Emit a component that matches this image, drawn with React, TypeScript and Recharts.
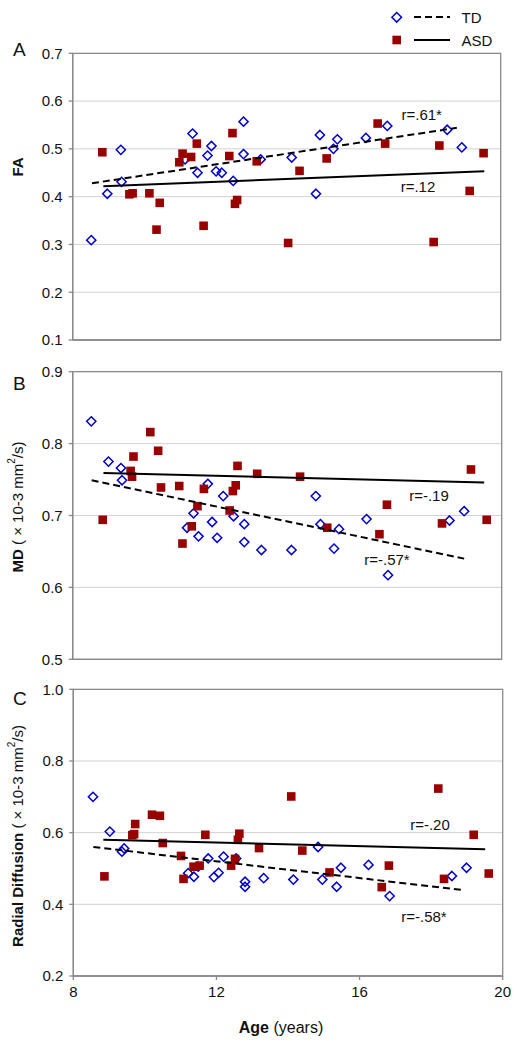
import React from 'react';
import { ComposedChart, Scatter, XAxis, YAxis, CartesianGrid, ReferenceArea } from 'recharts';

const FONT = '"Liberation Sans", Arial, Helvetica, sans-serif';

type Pt = [number, number];

// Age axis
const ageTicks = [8, 12, 16, 20];

// Panel A: FA
const faTicks = [0.1, 0.2, 0.3, 0.4, 0.5, 0.6, 0.7];
const tdFA: Pt[] = [
  [8.52, 0.309], [8.97, 0.406], [9.35, 0.498], [9.37, 0.431], [11.15, 0.478], [11.36, 0.532],
  [11.5, 0.45], [11.78, 0.486], [11.89, 0.506], [12.02, 0.453], [12.18, 0.45], [12.5, 0.433],
  [12.79, 0.557], [12.79, 0.489], [13.27, 0.478], [14.14, 0.482], [14.82, 0.406], [14.93, 0.529],
  [15.31, 0.5], [15.42, 0.52], [16.22, 0.523], [16.82, 0.548], [18.5, 0.54], [18.91, 0.503],
];
const asdFA: Pt[] = [
  [8.83, 0.493], [9.59, 0.405], [9.68, 0.407], [10.15, 0.407], [10.35, 0.331], [10.44, 0.387],
  [10.99, 0.472], [11.08, 0.49], [11.32, 0.483], [11.48, 0.511], [11.67, 0.339], [12.39, 0.485],
  [12.48, 0.533], [12.55, 0.385], [12.61, 0.393], [13.16, 0.474], [14.04, 0.303], [14.36, 0.454],
  [15.12, 0.48], [16.55, 0.553], [16.76, 0.511], [18.12, 0.305], [18.28, 0.507], [19.13, 0.412],
  [19.52, 0.491],
];
const tdFATrend: Pt[] = [[8.54, 0.428], [18.77, 0.544]];
const asdFATrend: Pt[] = [[8.86, 0.422], [19.54, 0.453]];

// Panel B: MD
const mdTicks = [0.5, 0.6, 0.7, 0.8, 0.9];
const tdMD: Pt[] = [
  [8.52, 0.831], [9.0, 0.775], [9.35, 0.766], [9.38, 0.749], [11.2, 0.683], [11.38, 0.703],
  [11.52, 0.671], [11.78, 0.744], [11.9, 0.691], [12.04, 0.669], [12.21, 0.727], [12.5, 0.699],
  [12.8, 0.688], [12.8, 0.663], [13.28, 0.652], [14.12, 0.652], [14.8, 0.727], [14.93, 0.688],
  [15.31, 0.654], [15.45, 0.681], [16.22, 0.695], [16.82, 0.617], [18.54, 0.693], [18.95, 0.706],
];
const asdMD: Pt[] = [
  [8.84, 0.694], [9.62, 0.762], [9.66, 0.754], [9.7, 0.782], [10.17, 0.816], [10.39, 0.79],
  [10.47, 0.739], [10.98, 0.741], [11.07, 0.661], [11.33, 0.685], [11.49, 0.713], [11.67, 0.737],
  [12.39, 0.707], [12.48, 0.734], [12.56, 0.742], [12.61, 0.769], [13.16, 0.758], [14.36, 0.754],
  [15.12, 0.683], [16.58, 0.674], [16.79, 0.715], [18.33, 0.689], [19.14, 0.764], [19.58, 0.694],
];
const tdMDTrend: Pt[] = [[8.53, 0.749], [18.95, 0.64]];
const asdMDTrend: Pt[] = [[8.86, 0.759], [19.51, 0.746]];

// Panel C: Radial Diffusion
const rdTicks = [0.2, 0.4, 0.6, 0.8, 1.0];
const tdRD: Pt[] = [
  [8.55, 0.7], [9.02, 0.603], [9.36, 0.547], [9.42, 0.556], [11.21, 0.487], [11.37, 0.477],
  [11.49, 0.505], [11.77, 0.528], [11.93, 0.476], [12.06, 0.488], [12.2, 0.533], [12.55, 0.528],
  [12.8, 0.463], [12.8, 0.449], [13.32, 0.473], [14.15, 0.469], [14.84, 0.56], [14.96, 0.469],
  [15.36, 0.449], [15.48, 0.502], [16.25, 0.51], [16.84, 0.423], [18.58, 0.479], [18.99, 0.502],
];
const asdRD: Pt[] = [
  [8.87, 0.478], [9.65, 0.593], [9.7, 0.596], [9.73, 0.624], [10.2, 0.65], [10.42, 0.647],
  [10.5, 0.571], [11.01, 0.535], [11.08, 0.471], [11.36, 0.505], [11.53, 0.508], [11.69, 0.594],
  [12.41, 0.508], [12.52, 0.527], [12.6, 0.58], [12.64, 0.597], [13.19, 0.557], [14.09, 0.701],
  [14.4, 0.55], [15.16, 0.489], [16.62, 0.448], [16.82, 0.508], [18.2, 0.723], [18.36, 0.471],
  [19.19, 0.594], [19.61, 0.486],
];
const tdRDTrend: Pt[] = [[8.56, 0.56], [18.86, 0.44]];
const asdRDTrend: Pt[] = [[8.84, 0.58], [19.51, 0.554]];

const toObj = (a: Pt[]) => a.map(([x, y]) => ({ x, y }));

const BLUE = '#0000CC';
const RED = '#990000';
const AXIS = '#8a8a8a';

const Diamond = (p: any) => {
  const { cx, cy } = p;
  if (cx == null || cy == null) return <g />;
  const r = 4.6;
  return (
    <path
      d={`M${cx},${cy - r}L${cx + r},${cy}L${cx},${cy + r}L${cx - r},${cy}Z`}
      fill="none"
      stroke={BLUE}
      strokeWidth={1.5}
    />
  );
};

const Square = (p: any) => {
  const { cx, cy } = p;
  if (cx == null || cy == null) return <g />;
  const h = 4.3;
  return <rect x={cx - h} y={cy - h} width={2 * h} height={2 * h} fill={RED} />;
};

const Empty = () => <g />;

interface PanelProps {
  top: number;
  height: number;
  marginTop: number;
  marginRight: number;
  yWidth: number;
  xAxisHeight: number;
  yDomain: [number, number];
  yTicks: number[];
  td: Pt[];
  asd: Pt[];
  tdTrend: Pt[];
  asdTrend: Pt[];
  showX: boolean;
}

function Panel(props: PanelProps) {
  const { top, height, marginTop, marginRight, yWidth, xAxisHeight, yDomain, yTicks, td, asd, tdTrend, asdTrend, showX } = props;
  return (
    <div style={{ position: 'absolute', left: 0, top, width: 520, height }}>
      <ComposedChart width={520} height={height} margin={{ top: marginTop, right: marginRight, bottom: 0, left: 0 }}>
        <CartesianGrid vertical={false} stroke="#d2d2d2" strokeWidth={1} />
        <XAxis
          type="number"
          dataKey="x"
          domain={[8, 20]}
          ticks={ageTicks}
          allowDataOverflow
          height={xAxisHeight}
          tickSize={4}
          tickMargin={6}
          stroke={AXIS}
          strokeWidth={1.3}
          tick={showX ? { fill: '#111', fontSize: 15, fontFamily: FONT } : false}
        />
        <YAxis
          type="number"
          dataKey="y"
          domain={yDomain}
          ticks={yTicks}
          allowDataOverflow
          width={yWidth}
          tickSize={4}
          tickMargin={6}
          stroke={AXIS}
          strokeWidth={1.3}
          tickFormatter={(v: number) => v.toFixed(1)}
          tick={{ fill: '#111', fontSize: 15, fontFamily: FONT }}
        />
        <ReferenceArea x1={8} x2={20} y1={yDomain[0]} y2={yDomain[1]} fill="none" fillOpacity={0} stroke={AXIS} strokeWidth={1.3} />
        <Scatter data={toObj(td)} shape={Diamond} isAnimationActive={false} />
        <Scatter data={toObj(asd)} shape={Square} isAnimationActive={false} />
        <Scatter
          data={toObj(tdTrend)}
          shape={Empty}
          line={{ stroke: '#000', strokeWidth: 2, strokeDasharray: '7 4' }}
          isAnimationActive={false}
        />
        <Scatter
          data={toObj(asdTrend)}
          shape={Empty}
          line={{ stroke: '#000', strokeWidth: 2 }}
          isAnimationActive={false}
        />
      </ComposedChart>
    </div>
  );
}

export default function App() {
  const txt = { fontFamily: FONT, fill: '#111' } as const;
  return (
    <div style={{ position: 'absolute', left: 0, top: 0, width: 520, height: 1044, background: '#fff', fontFamily: FONT }}>
      <Panel top={0} height={360} marginTop={53.3} marginRight={19.3} yWidth={72.7} xAxisHeight={20}
        yDomain={[0.1, 0.7]} yTicks={faTicks} td={tdFA} asd={asdFA} tdTrend={tdFATrend} asdTrend={asdFATrend} showX={false} />
      <Panel top={360} height={310} marginTop={11.7} marginRight={18.3} yWidth={72.7} xAxisHeight={10.7}
        yDomain={[0.5, 0.9]} yTicks={mdTicks} td={tdMD} asd={asdMD} tdTrend={tdMDTrend} asdTrend={asdMDTrend} showX={false} />
      <Panel top={670} height={374} marginTop={19.3} marginRight={17.3} yWidth={73.3} xAxisHeight={68}
        yDomain={[0.2, 1.0]} yTicks={rdTicks} td={tdRD} asd={asdRD} tdTrend={tdRDTrend} asdTrend={asdRDTrend} showX={true} />
      <svg width={520} height={1044} style={{ position: 'absolute', left: 0, top: 0, pointerEvents: 'none' }}>
        {/* Legend */}
        <path d="M396.7,12.5L401.5,17.3L396.7,22.1L391.9,17.3Z" fill="none" stroke={BLUE} strokeWidth={1.5} />
        <line x1={414} y1={17} x2={450} y2={17} stroke="#000" strokeWidth={2} strokeDasharray="7 4" />
        <text x={461.5} y={22.5} fontSize={15} {...txt}>TD</text>
        <rect x={392.4} y={35.7} width={8.6} height={8.6} fill={RED} />
        <line x1={414} y1={40} x2={450} y2={40} stroke="#000" strokeWidth={2} />
        <text x={461.5} y={45.5} fontSize={15} {...txt}>ASD</text>

        {/* Panel letters */}
        <text x={13} y={55.5} fontSize={19} {...txt}>A</text>
        <text x={13} y={390} fontSize={19} {...txt}>B</text>
        <text x={13} y={705} fontSize={19} {...txt}>C</text>

        {/* Y axis titles */}
        <text transform="translate(17,167) rotate(-90)" textAnchor="middle" dominantBaseline="central" fontSize={15} fontWeight="bold" {...txt}>FA</text>
        <text transform="translate(17,507) rotate(-90)" textAnchor="middle" dominantBaseline="central" fontSize={15} {...txt}>
          <tspan fontWeight="bold">MD</tspan>
          <tspan> ( × 10-3 mm</tspan>
          <tspan baselineShift="super" fontSize={10}>2</tspan>
          <tspan>/s)</tspan>
        </text>
        <text transform="translate(17,836) rotate(-90)" textAnchor="middle" dominantBaseline="central" fontSize={15} {...txt}>
          <tspan fontWeight="bold">Radial Diffusion</tspan>
          <tspan> ( × 10-3 mm</tspan>
          <tspan baselineShift="super" fontSize={10}>2</tspan>
          <tspan>/s)</tspan>
        </text>

        {/* X axis title */}
        <text x={281} y={1027} textAnchor="middle" dominantBaseline="central" fontSize={16} {...txt}>
          <tspan fontWeight="bold">Age</tspan>
          <tspan> (years)</tspan>
        </text>

        {/* Correlation annotations */}
        <text x={421.7} y={114} textAnchor="middle" dominantBaseline="central" fontSize={15} {...txt}>r=.61*</text>
        <text x={418} y={186.7} textAnchor="middle" dominantBaseline="central" fontSize={15} {...txt}>r=.12</text>
        <text x={429} y={495} textAnchor="middle" dominantBaseline="central" fontSize={15} {...txt}>r=-.19</text>
        <text x={387} y={559} textAnchor="middle" dominantBaseline="central" fontSize={15} {...txt}>r=-.57*</text>
        <text x={430} y={824} textAnchor="middle" dominantBaseline="central" fontSize={15} {...txt}>r=-.20</text>
        <text x={424} y={916} textAnchor="middle" dominantBaseline="central" fontSize={15} {...txt}>r=-.58*</text>
      </svg>
    </div>
  );
}
